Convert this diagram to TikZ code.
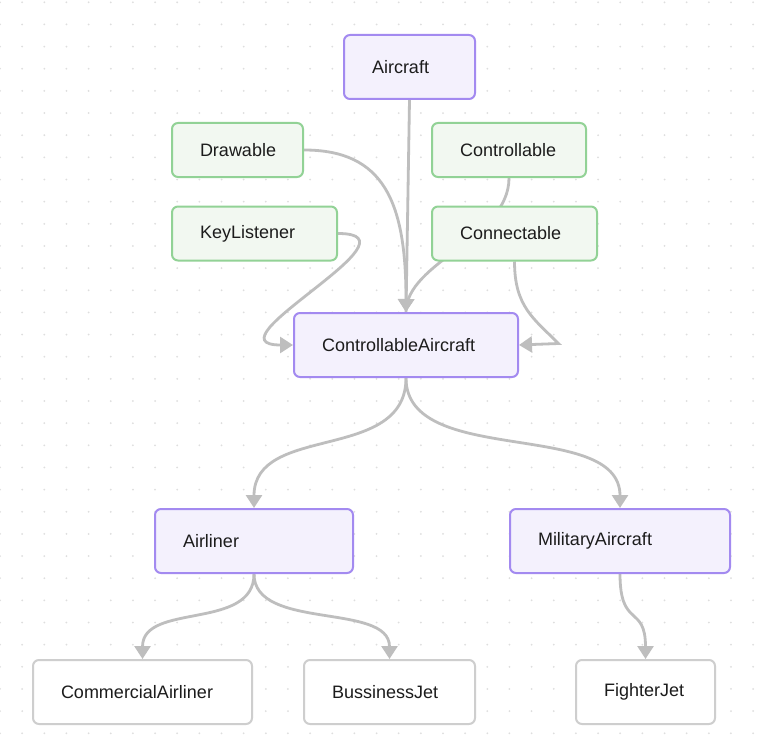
\documentclass[tikz,border=0pt]{standalone}
\usepackage{fontspec}
\setmainfont{Liberation Sans}
\usetikzlibrary{arrows.meta}
\pgfdeclarelayer{background}
\pgfsetlayers{background,main}
\definecolor{dotc}{RGB}{222,222,222}
\definecolor{edgec}{RGB}{190,190,190}
\definecolor{purpb}{RGB}{163,138,240}
\definecolor{purpf}{RGB}{244,241,253}
\definecolor{greenb}{RGB}{146,210,150}
\definecolor{greenf}{RGB}{242,248,241}
\definecolor{whiteb}{RGB}{206,206,206}
\definecolor{txt}{RGB}{28,28,28}
\begin{document}
\begin{tikzpicture}[x=1pt,y=-1pt,
  basebox/.style={rectangle, rounded corners=6pt, line width=2pt, inner xsep=28pt, inner ysep=0pt,
    align=left, text=txt, font=\fontsize{18}{22}\selectfont},
  pbox/.style={basebox, draw=purpb, fill=purpf, minimum height=64pt},
  gbox/.style={basebox, draw=greenb, fill=greenf, minimum height=54pt},
  wbox/.style={basebox, draw=whiteb, fill=white, minimum height=64pt},
  edge/.style={draw=edgec, line width=2.8pt, -{Triangle[width=16pt,length=13pt]}},
  plainedge/.style={draw=edgec, line width=2.8pt}]
\useasboundingbox (0,0) rectangle (770,754);
% nodes
\node[pbox, text width=75pt] (air) at (409.5,67) {Aircraft};
\node[gbox, text width=75pt] (drw) at (237.5,150) {Drawable};
\node[gbox, text width=98pt] (ctl) at (509,150) {Controllable};
\node[gbox, text width=109pt] (kl) at (254.5,233.5) {KeyListener};
\node[gbox, text width=109pt] (cn) at (514.5,233.5) {Connectable};
\node[pbox, text width=168pt] (ca) at (406,345) {ControllableAircraft};
\node[pbox, text width=142pt] (al) at (254,541) {Airliner};
\node[pbox, text width=164pt] (ma) at (620,541) {MilitaryAircraft};
\node[wbox, text width=163pt] (cal) at (142.5,692) {CommercialAirliner};
\node[wbox, text width=115pt] (bj) at (389.5,692) {BussinessJet};
\node[wbox, text width=83pt] (fj) at (645.5,692) {FighterJet};
\begin{pgfonlayer}{background}
\fill[white] (0,0) rectangle (770,754);
\foreach \i in {0,...,34} {
  \foreach \j in {0,...,33} {
    \fill[dotc] (\i*22.15, 2.3+\j*22.15) circle (1pt);
  }
}
\draw[plainedge] (ctl.south) .. controls +(0,60) and +(0,-50) .. (ca.north);
\draw[edge] (air.south) -- (ca.north);
\draw[edge] (drw.east) .. controls +(80,0) and +(0,-110) .. (ca.north);
\draw[edge] (kl.east) .. controls +(90,0) and +(-90,0) .. (ca.west);
\draw[edge] (cn.south) .. controls +(0,45) and +(-25,-25) .. ++(44,82) -- (ca.east);
\draw[edge] (ca.south) .. controls +(0,85) and +(0,-85) .. (al.north);
\draw[edge] (ca.south) .. controls +(0,90) and +(0,-90) .. (ma.north);
\draw[edge] (al.south) .. controls +(0,57) and +(0,-57) .. (cal.north);
\draw[edge] (al.south) .. controls +(0,57) and +(0,-57) .. (bj.north);
\draw[edge] (ma.south) .. controls +(0,55) and +(0,-55) .. (fj.north);
\end{pgfonlayer}
\end{tikzpicture}
\end{document}
